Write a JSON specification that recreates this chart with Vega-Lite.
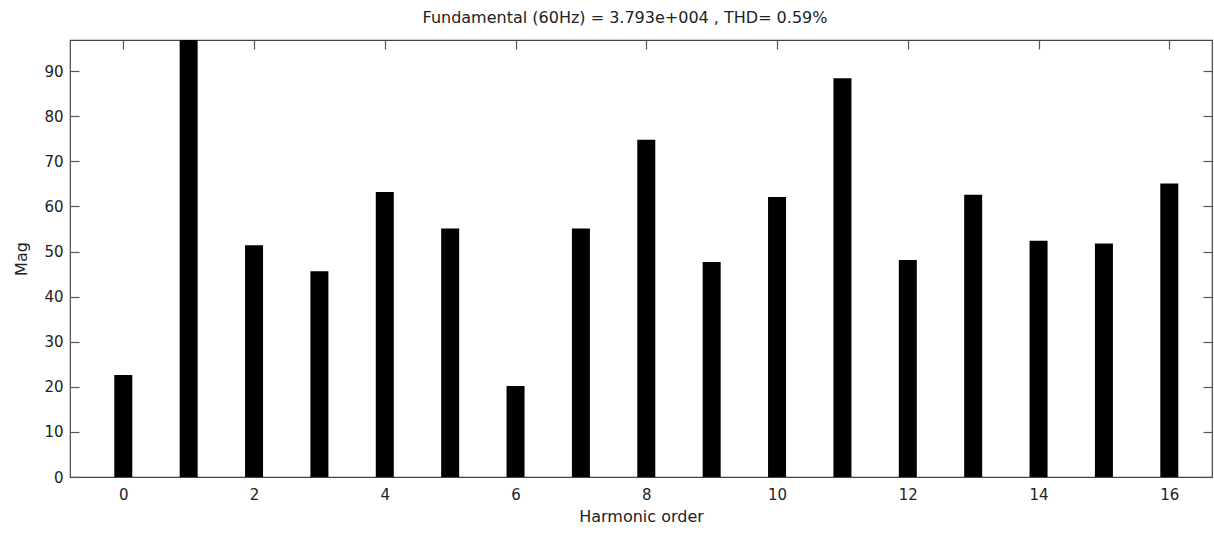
{
  "$schema": "https://vega.github.io/schema/vega-lite/v6.json",
  "width": 1142,
  "height": 437,
  "autosize": {"type": "none"},
  "padding": {"left": 70, "top": 40, "right": 2, "bottom": 58},
  "background": "white",
  "title": {
    "text": "Fundamental (60Hz) = 3.793e+004 , THD= 0.59%",
    "font": "DejaVu Sans",
    "fontSize": 16,
    "fontWeight": "normal",
    "color": "#222",
    "offset": 13,
    "dx": -16
  },
  "config": {
    "view": {"stroke": "#444", "strokeWidth": 1.2},
    "axis": {
      "domain": false,
      "grid": false,
      "tickColor": "#555",
      "tickSize": -9,
      "tickWidth": 1.2,
      "labelFont": "DejaVu Sans",
      "labelFontSize": 15,
      "labelColor": "#222",
      "titleFont": "DejaVu Sans",
      "titleFontSize": 16,
      "titleFontWeight": "normal",
      "titleColor": "#222"
    }
  },
  "data": {
    "values": [
      {"order": 0, "mag": 22.6},
      {"order": 1, "mag": 100},
      {"order": 2, "mag": 51.4},
      {"order": 3, "mag": 45.6},
      {"order": 4, "mag": 63.2},
      {"order": 5, "mag": 55.1},
      {"order": 6, "mag": 20.2},
      {"order": 7, "mag": 55.1},
      {"order": 8, "mag": 74.8},
      {"order": 9, "mag": 47.7},
      {"order": 10, "mag": 62.1},
      {"order": 11, "mag": 88.4},
      {"order": 12, "mag": 48.1},
      {"order": 13, "mag": 62.6},
      {"order": 14, "mag": 52.4},
      {"order": 15, "mag": 51.8},
      {"order": 16, "mag": 65.1}
    ]
  },
  "layer": [
    {
      "mark": {"type": "bar", "color": "black", "size": 18, "clip": true},
      "encoding": {
        "x": {
          "field": "order",
          "type": "quantitative",
          "scale": {"domain": [-0.815, 16.653], "nice": false, "zero": false, "padding": 0},
          "axis": {
            "orient": "bottom",
            "title": "Harmonic order",
            "values": [0, 2, 4, 6, 8, 10, 12, 14, 16],
            "format": "d",
            "labelPadding": 19,
            "titlePadding": 6
          }
        },
        "y": {
          "field": "mag",
          "type": "quantitative",
          "scale": {"domain": [0, 96.9], "nice": false, "padding": 0},
          "axis": {
            "orient": "left",
            "title": "Mag",
            "values": [0, 10, 20, 30, 40, 50, 60, 70, 80, 90],
            "format": "d",
            "labelPadding": 16,
            "titlePadding": 14
          }
        }
      }
    },
    {
      "mark": {"type": "bar", "opacity": 0, "size": 18, "clip": true},
      "encoding": {
        "x": {
          "field": "order",
          "type": "quantitative",
          "axis": {
            "orient": "top",
            "title": null,
            "labels": false,
            "values": [0, 2, 4, 6, 8, 10, 12, 14, 16]
          }
        },
        "y": {
          "field": "mag",
          "type": "quantitative",
          "axis": {
            "orient": "right",
            "title": null,
            "labels": false,
            "values": [0, 10, 20, 30, 40, 50, 60, 70, 80, 90]
          }
        }
      }
    }
  ],
  "resolve": {"axis": {"x": "independent", "y": "independent"}}
}
